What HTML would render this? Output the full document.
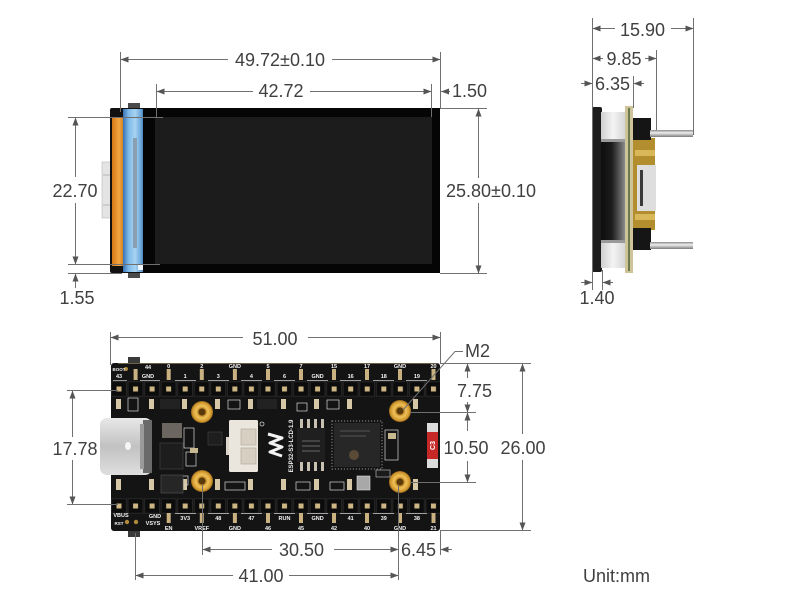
<!DOCTYPE html>
<html><head><meta charset="utf-8"><style>
html,body{margin:0;padding:0;background:#fff;}
svg{display:block;}
text{font-family:"Liberation Sans",sans-serif;}
.d{font-size:18px;fill:#404040;}
.l{stroke:#707070;stroke-width:1;fill:none;}
.a{stroke:#707070;stroke-width:1;fill:none;marker-end:url(#ar);}
.p{font-size:5.5px;fill:#f4f4f4;font-weight:bold;text-anchor:middle;}
.w{fill:none;stroke:#d8d8d8;stroke-width:.7;}
.pad{fill:#d6c7a6;}
</style></head><body>
<svg width="800" height="600" viewBox="0 0 800 600" xmlns="http://www.w3.org/2000/svg">
<defs>
<marker id="ar" viewBox="0 0 10 10" refX="10" refY="5" markerWidth="8" markerHeight="6" markerUnits="userSpaceOnUse" orient="auto" preserveAspectRatio="none"><path d="M0,0L10,5L0,10z" fill="#555"/></marker>
<linearGradient id="blue" x1="0" y1="0" x2="1" y2="0"><stop offset="0" stop-color="#3572b4"/><stop offset=".25" stop-color="#7db9e8"/><stop offset=".55" stop-color="#a9d3f2"/><stop offset=".8" stop-color="#6ea9dc"/><stop offset="1" stop-color="#2f68a8"/></linearGradient>
<linearGradient id="org" x1="0" y1="0" x2="1" y2="0"><stop offset="0" stop-color="#d47814"/><stop offset=".5" stop-color="#f2a642"/><stop offset="1" stop-color="#c46a10"/></linearGradient>
<radialGradient id="gold"><stop offset="0" stop-color="#7a4e0c"/><stop offset=".3" stop-color="#b67c1c"/><stop offset=".55" stop-color="#f0c25a"/><stop offset=".85" stop-color="#d39a30"/><stop offset="1" stop-color="#98681a"/></radialGradient>
<linearGradient id="usb" x1="0" y1="0" x2="0" y2="1"><stop offset="0" stop-color="#e8e8e8"/><stop offset=".5" stop-color="#c2c2c2"/><stop offset="1" stop-color="#dedede"/></linearGradient>
<linearGradient id="silvl" x1="0" y1="0" x2="1" y2="0"><stop offset="0" stop-color="#cfcfcf"/><stop offset=".5" stop-color="#f4f4f4"/><stop offset="1" stop-color="#d6d6d6"/></linearGradient>
<linearGradient id="dark" x1="0" y1="0" x2="1" y2="0"><stop offset="0" stop-color="#0e0e0e"/><stop offset=".45" stop-color="#1c1c1c"/><stop offset=".75" stop-color="#555"/><stop offset="1" stop-color="#8a8a8a"/></linearGradient>
<linearGradient id="pin" x1="0" y1="0" x2="0" y2="1"><stop offset="0" stop-color="#8a8a8a"/><stop offset=".4" stop-color="#eeeeee"/><stop offset="1" stop-color="#7a7a7a"/></linearGradient>
<pattern id="hdr" x="110.7" y="381" width="16.55" height="16" patternUnits="userSpaceOnUse"><rect x="0.8" y="0.8" width="14.9" height="14.4" fill="#0c0c0c" stroke="#2c2c2c" stroke-width="0.8"/><rect x="5.8" y="5.5" width="5" height="5" fill="#cdb684"/></pattern>
<pattern id="hdr2" x="110.7" y="498" width="16.55" height="16" patternUnits="userSpaceOnUse"><rect x="0.8" y="0.8" width="14.9" height="14.4" fill="#0c0c0c" stroke="#2c2c2c" stroke-width="0.8"/><rect x="5.8" y="5.5" width="5" height="5" fill="#cdb684"/></pattern>
</defs>
<rect width="800" height="600" fill="#fff"/>

<!-- ===== TOP DISPLAY ===== -->
<rect x="128" y="103" width="12" height="6" fill="#4a4a4a"/>
<rect x="128" y="272" width="12" height="6" fill="#4a4a4a"/>
<rect x="102" y="162" width="9" height="56" fill="#e4e4e4" stroke="#b8b8b8" stroke-width=".6"/>
<line x1="103" y1="175" x2="110" y2="175" stroke="#aaa" stroke-width=".8"/>
<line x1="103" y1="205" x2="110" y2="205" stroke="#aaa" stroke-width=".8"/>
<rect x="110" y="108" width="36" height="165" rx="2" fill="#111"/>
<rect x="112" y="118" width="14" height="148" fill="url(#org)"/>
<rect x="123" y="109" width="22" height="163" fill="url(#blue)"/>
<rect x="133" y="138" width="4" height="110" fill="#8a9fb2"/>
<rect x="138" y="264" width="6" height="6" fill="#eef6fc"/>
<rect x="143" y="108" width="297" height="165" fill="#050505"/>
<rect x="155" y="117" width="277" height="147" fill="#1c1c1c"/>

<!-- top dims -->
<line class="l" x1="120.5" y1="52" x2="120.5" y2="112"/>
<line class="l" x1="440.5" y1="52" x2="440.5" y2="108"/>
<line class="l" x1="156.5" y1="84" x2="156.5" y2="117"/>
<line class="l" x1="431.5" y1="84" x2="431.5" y2="117"/>
<line class="a" x1="228" y1="59.5" x2="120.5" y2="59.5"/>
<line class="a" x1="332" y1="59.5" x2="440.5" y2="59.5"/>
<text class="d" x="280" y="66" text-anchor="middle">49.72±0.10</text>
<line class="a" x1="253" y1="91.5" x2="156.5" y2="91.5"/>
<line class="a" x1="310" y1="91.5" x2="431.5" y2="91.5"/>
<text class="d" x="281" y="97" text-anchor="middle">42.72</text>
<line class="a" x1="450" y1="91.5" x2="441" y2="91.5"/>
<text class="d" x="452" y="97">1.50</text>
<line class="l" x1="68" y1="117.5" x2="163" y2="117.5"/>
<line class="l" x1="68" y1="264.5" x2="160" y2="264.5"/>
<line class="l" x1="68" y1="273.5" x2="122" y2="273.5"/>
<line class="a" x1="75.5" y1="177" x2="75.5" y2="117.5"/>
<line class="a" x1="75.5" y1="203" x2="75.5" y2="264.5"/>
<text class="d" x="75" y="197" text-anchor="middle">22.70</text>
<line class="a" x1="75.5" y1="288" x2="75.5" y2="273.5"/>
<text class="d" x="77" y="304" text-anchor="middle">1.55</text>
<line class="l" x1="440" y1="108.5" x2="487" y2="108.5"/>
<line class="l" x1="440" y1="273.5" x2="487" y2="273.5"/>
<line class="a" x1="478.5" y1="178" x2="478.5" y2="108.5"/>
<line class="a" x1="478.5" y1="203" x2="478.5" y2="273.5"/>
<text class="d" x="491" y="197" text-anchor="middle">25.80±0.10</text>

<!-- ===== SIDE VIEW ===== -->
<rect x="592" y="107" width="10" height="165" rx="2" fill="#1c1c1c"/>
<rect x="601" y="112" width="24" height="156" fill="url(#silvl)"/>
<rect x="601" y="141" width="24" height="100" fill="url(#dark)"/>
<rect x="601" y="139" width="24" height="3" fill="#9a9a9a"/>
<rect x="601" y="240" width="24" height="3" fill="#9a9a9a"/>
<rect x="625" y="106" width="8" height="167" fill="#cfc39a"/>
<rect x="628" y="108" width="2" height="163" fill="#6b7a4a"/>
<rect x="633" y="138" width="22" height="92" fill="#b38e2e"/>
<rect x="635" y="150" width="20" height="6" fill="#d9b85a"/>
<rect x="635" y="214" width="20" height="6" fill="#d9b85a"/>
<rect x="633" y="118" width="18" height="22" fill="#151515"/>
<rect x="633" y="228" width="18" height="22" fill="#151515"/>
<rect x="637" y="165" width="19" height="46" fill="#dedede"/>
<rect x="640" y="170" width="3" height="36" fill="#3a3a3a"/>
<rect x="650" y="130" width="43" height="7" fill="url(#pin)"/>
<rect x="650" y="242" width="43" height="7" fill="url(#pin)"/>

<line class="l" x1="592.5" y1="18" x2="592.5" y2="290"/>
<line class="l" x1="693.5" y1="18" x2="693.5" y2="135"/>
<line class="l" x1="656.5" y1="50" x2="656.5" y2="130"/>
<line class="l" x1="633.5" y1="76" x2="633.5" y2="108"/>
<line class="l" x1="602.5" y1="270" x2="602.5" y2="290"/>
<line class="a" x1="615" y1="28.5" x2="592.5" y2="28.5"/>
<line class="a" x1="671" y1="28.5" x2="693.5" y2="28.5"/>
<text class="d" x="642.5" y="36" text-anchor="middle">15.90</text>
<line class="a" x1="603" y1="58.5" x2="592.5" y2="58.5"/>
<line class="a" x1="645" y1="58.5" x2="656.5" y2="58.5"/>
<text class="d" x="624" y="65" text-anchor="middle">9.85</text>
<line class="a" x1="581" y1="83.5" x2="592.5" y2="83.5"/>
<line class="a" x1="644" y1="83.5" x2="633.5" y2="83.5"/>
<text class="d" x="612.5" y="90" text-anchor="middle">6.35</text>
<line class="a" x1="581" y1="282.5" x2="592.5" y2="282.5"/>
<line class="a" x1="613" y1="282.5" x2="602.5" y2="282.5"/>
<text class="d" x="597" y="304" text-anchor="middle">1.40</text>

<!-- ===== PCB ===== -->
<rect x="128" y="357" width="12" height="7" fill="#3a3a3a"/>
<rect x="128" y="530" width="12" height="7" fill="#3a3a3a"/>
<rect x="111" y="363" width="329" height="168" rx="3" fill="#141414"/>
<line x1="118" y1="363.5" x2="438" y2="363.5" stroke="#6b604a" stroke-width="1"/>
<rect x="111" y="381" width="329" height="16" fill="url(#hdr)"/>
<rect x="111" y="498" width="329" height="16" fill="url(#hdr2)"/>

<g fill="#c9b182">
<rect x="166.7" y="369" width="4" height="11"/><rect x="199.8" y="369" width="4" height="11"/><rect x="232.9" y="369" width="4" height="11"/><rect x="266" y="369" width="4" height="11"/><rect x="299" y="369" width="4" height="11"/><rect x="332" y="369" width="4" height="11"/><rect x="365" y="369" width="4" height="11"/><rect x="398" y="369" width="4" height="11"/><rect x="431.5" y="369" width="4" height="11"/>
<rect x="133.6" y="369" width="4" height="11"/>
</g>
<g stroke="#cfcfcf" stroke-width=".7">
<line x1="175" y1="380.5" x2="196" y2="380.5"/><line x1="208" y1="380.5" x2="229" y2="380.5"/><line x1="241" y1="380.5" x2="262" y2="380.5"/><line x1="274" y1="380.5" x2="295" y2="380.5"/><line x1="307" y1="380.5" x2="328" y2="380.5"/><line x1="340" y1="380.5" x2="361" y2="380.5"/><line x1="373" y1="380.5" x2="394" y2="380.5"/><line x1="406" y1="380.5" x2="427" y2="380.5"/><line x1="140" y1="380.5" x2="160" y2="380.5"/><line x1="113" y1="380.5" x2="127" y2="380.5"/>
</g>
<circle cx="126" cy="369" r="2" fill="#b08a3a"/>
<text class="p" x="119" y="371" style="font-size:4.5px">BOOT</text>
<text class="p" x="119" y="378">43</text>
<text class="p" x="148" y="369">44</text>
<text class="p" x="148" y="378">GND</text>
<text class="p" x="168.7" y="368">0</text>
<text class="p" x="185.2" y="378">1</text>
<text class="p" x="201.8" y="368">2</text>
<text class="p" x="218.3" y="378">3</text>
<text class="p" x="234.9" y="368">GND</text>
<text class="p" x="251.4" y="378">4</text>
<text class="p" x="268" y="368">5</text>
<text class="p" x="284.5" y="378">6</text>
<text class="p" x="301" y="368">7</text>
<text class="p" x="317.6" y="378">GND</text>
<text class="p" x="334" y="368">15</text>
<text class="p" x="350.7" y="378">16</text>
<text class="p" x="367" y="368">17</text>
<text class="p" x="383.8" y="378">18</text>
<text class="p" x="400" y="368">GND</text>
<text class="p" x="416.9" y="378">19</text>
<text class="p" x="433.5" y="368">20</text>

<g fill="#c9b182">
<rect x="166.7" y="513" width="4" height="10"/><rect x="199.8" y="513" width="4" height="10"/><rect x="232.9" y="513" width="4" height="10"/><rect x="266" y="513" width="4" height="10"/><rect x="299" y="513" width="4" height="10"/><rect x="332" y="513" width="4" height="10"/><rect x="365" y="513" width="4" height="10"/><rect x="398" y="513" width="4" height="10"/><rect x="431.5" y="513" width="4" height="10"/>
</g>
<circle cx="127" cy="522" r="2.2" fill="#b08a3a"/><circle cx="136" cy="522" r="2.2" fill="#b08a3a"/>
<g stroke="#cfcfcf" stroke-width=".7">
<line x1="175" y1="513.5" x2="196" y2="513.5"/><line x1="208" y1="513.5" x2="229" y2="513.5"/><line x1="241" y1="513.5" x2="262" y2="513.5"/><line x1="274" y1="513.5" x2="295" y2="513.5"/><line x1="307" y1="513.5" x2="328" y2="513.5"/><line x1="340" y1="513.5" x2="361" y2="513.5"/><line x1="373" y1="513.5" x2="394" y2="513.5"/><line x1="406" y1="513.5" x2="427" y2="513.5"/>
</g>
<text class="p" x="121" y="517">VBUS</text>
<text class="p" x="119" y="525" style="font-size:4.5px">RST</text>
<text class="p" x="155" y="518">GND</text>
<text class="p" x="153" y="525">VSYS</text>
<text class="p" x="168.7" y="530">EN</text>
<text class="p" x="185.2" y="520">3V3</text>
<text class="p" x="201.8" y="530">VREF</text>
<text class="p" x="218.3" y="520">48</text>
<text class="p" x="234.9" y="530">GND</text>
<text class="p" x="251.4" y="520">47</text>
<text class="p" x="268" y="530">46</text>
<text class="p" x="284.5" y="520">RUN</text>
<text class="p" x="301" y="530">45</text>
<text class="p" x="317.6" y="520">GND</text>
<text class="p" x="334" y="530">42</text>
<text class="p" x="350.7" y="520">41</text>
<text class="p" x="367" y="530">40</text>
<text class="p" x="383.8" y="520">39</text>
<text class="p" x="400" y="530">GND</text>
<text class="p" x="416.9" y="520">38</text>
<text class="p" x="433.5" y="530">21</text>

<g class="pad">
<rect x="116" y="399" width="5" height="10"/><rect x="149" y="399" width="5" height="10"/><rect x="182" y="399" width="5" height="10"/><rect x="215" y="399" width="5" height="10"/><rect x="248" y="399" width="5" height="10"/><rect x="281" y="399" width="5" height="10"/><rect x="314" y="399" width="5" height="10"/><rect x="347" y="399" width="5" height="10"/><rect x="413" y="399" width="5" height="10"/>
<rect x="116" y="479" width="5" height="11"/><rect x="149" y="479" width="5" height="11"/><rect x="182" y="479" width="5" height="11"/><rect x="215" y="479" width="5" height="11"/><rect x="248" y="479" width="5" height="11"/><rect x="281" y="479" width="5" height="11"/><rect x="314" y="479" width="5" height="11"/><rect x="347" y="479" width="5" height="11"/><rect x="413" y="479" width="5" height="11"/>
</g>

<rect class="w" x="128" y="398" width="10" height="13"/>
<rect class="w" x="228" y="400" width="12" height="9"/>
<rect class="w" x="327" y="400" width="12" height="9"/>
<rect class="w" x="297" y="403" width="10" height="8"/>
<rect class="w" x="176" y="476" width="12" height="9"/>
<rect class="w" x="225" y="482" width="20" height="8"/>
<rect class="w" x="296" y="482" width="14" height="8"/>
<rect class="w" x="330" y="482" width="14" height="8"/>
<rect class="w" x="184" y="428" width="10" height="20"/>
<rect class="w" x="186" y="452" width="10" height="14"/>
<rect class="w" x="385" y="430" width="13" height="30"/>
<rect x="160" y="399" width="20" height="10" fill="#222"/>
<rect x="257" y="399" width="20" height="10" fill="#222"/>
<rect x="162" y="423" width="20" height="15" fill="#6b6660"/>
<rect x="160" y="443" width="23" height="26" fill="#1d1d1d" stroke="#3c3c3c" stroke-width=".8"/>
<rect x="161" y="475" width="22" height="18" fill="#262626" stroke="#555" stroke-width=".6"/>
<rect x="208" y="432" width="14" height="13" fill="#1e1e1e" stroke="#444" stroke-width=".6"/>
<rect x="190" y="448" width="8" height="5" fill="#c8b890"/>

<rect x="100" y="418" width="52" height="57" rx="7" fill="url(#usb)"/>
<rect x="143" y="420" width="9" height="53" fill="#6a6a6a"/>
<rect x="140" y="424" width="4" height="45" fill="#9a9a9a"/>
<ellipse cx="128" cy="446" rx="3" ry="4" fill="#f5f5f5"/>

<circle cx="202" cy="412" r="11" fill="url(#gold)"/><circle cx="202" cy="412" r="3.5" fill="#5a3a0a"/>
<circle cx="202" cy="481" r="11" fill="url(#gold)"/><circle cx="202" cy="481" r="3.5" fill="#5a3a0a"/>
<circle cx="400" cy="411" r="11" fill="url(#gold)"/><circle cx="400" cy="411" r="3.5" fill="#5a3a0a"/>
<circle cx="400" cy="482" r="11" fill="url(#gold)"/><circle cx="400" cy="482" r="3.5" fill="#5a3a0a"/>

<rect x="226" y="437" width="6" height="18" fill="#ddd6ca"/>
<rect x="229" y="420" width="29" height="52" rx="1.5" fill="#ebe6dd"/>
<rect x="241" y="429" width="15" height="16" fill="#d6cfc2" stroke="#b4ab9c" stroke-width=".7"/>
<rect x="241" y="448" width="15" height="16" fill="#d6cfc2" stroke="#b4ab9c" stroke-width=".7"/>
<circle cx="262" cy="424" r="2" fill="none" stroke="#ccc" stroke-width=".8"/>

<polyline points="268,434 282,438 270,443 282,447 270,452 282,456" fill="none" stroke="#f4f4f4" stroke-width="3" stroke-linejoin="round"/>
<text x="0" y="0" transform="translate(293,446) rotate(-90)" style="font-size:6px;fill:#eee;font-weight:bold" text-anchor="middle">ESP32-S3-LCD-1.9</text>

<g fill="#c8c0b0">
<rect x="300" y="419" width="3" height="9"/><rect x="307" y="419" width="3" height="9"/><rect x="314" y="419" width="3" height="9"/><rect x="321" y="419" width="3" height="9"/>
<rect x="300" y="462" width="3" height="9"/><rect x="307" y="462" width="3" height="9"/><rect x="314" y="462" width="3" height="9"/><rect x="321" y="462" width="3" height="9"/>
</g>
<rect x="297" y="428" width="28" height="34" fill="#1f1f1f"/>
<rect x="302" y="440" width="18" height="2" fill="#444"/><rect x="302" y="445" width="18" height="2" fill="#444"/><rect x="302" y="450" width="18" height="2" fill="#444"/>

<rect x="332" y="421" width="50" height="48" fill="none" stroke="#777" stroke-width="1.2" stroke-dasharray="1.2,1.8"/>
<rect x="334" y="423" width="46" height="44" fill="#272727"/>
<rect x="340" y="430" width="30" height="2" fill="#3e3e3e"/><rect x="340" y="435" width="26" height="2" fill="#3e3e3e"/>
<circle cx="354" cy="455" r="5" fill="#5a4a38"/>

<rect x="357" y="476" width="13" height="14" fill="#a8a8a8" stroke="#ddd" stroke-width=".6"/>
<rect x="388" y="433" width="8" height="6" fill="#c8b890"/>
<rect x="376" y="470" width="14" height="7" fill="#1a1a1a" stroke="#ccc" stroke-width=".6"/>

<rect x="427" y="423" width="11" height="45" fill="#dcdcdc"/>
<rect x="427" y="432" width="11" height="27" fill="#c62828"/>
<text x="0" y="0" transform="translate(435,445.5) rotate(-90)" style="font-size:7px;fill:#fff;font-weight:bold" text-anchor="middle">C3</text>

<!-- bottom dims -->
<line class="l" x1="110.5" y1="332" x2="110.5" y2="365"/>
<line class="l" x1="440.5" y1="332" x2="440.5" y2="363"/>
<line class="a" x1="243" y1="337.5" x2="110.5" y2="337.5"/>
<line class="a" x1="308" y1="337.5" x2="440.5" y2="337.5"/>
<text class="d" x="275" y="345" text-anchor="middle">51.00</text>
<polyline class="l" points="463,351.5 455,351.5 403,410"/>
<text class="d" x="465" y="357">M2</text>
<line class="l" x1="440" y1="363.5" x2="531" y2="363.5"/>
<line class="l" x1="410" y1="412.5" x2="476" y2="412.5"/>
<line class="l" x1="410" y1="482.5" x2="476" y2="482.5"/>
<line class="l" x1="440" y1="530.5" x2="531" y2="530.5"/>
<line class="a" x1="467.5" y1="378" x2="467.5" y2="363.5"/>
<line class="a" x1="467.5" y1="402" x2="467.5" y2="412.5"/>
<text class="d" x="474.5" y="397" text-anchor="middle">7.75</text>
<line class="a" x1="467.5" y1="431" x2="467.5" y2="412.5"/>
<line class="a" x1="467.5" y1="461" x2="467.5" y2="482.5"/>
<text class="d" x="466" y="454" text-anchor="middle">10.50</text>
<line class="a" x1="522.5" y1="434" x2="522.5" y2="363.5"/>
<line class="a" x1="522.5" y1="460" x2="522.5" y2="530.5"/>
<text class="d" x="523" y="454" text-anchor="middle">26.00</text>
<line class="l" x1="67" y1="390.5" x2="118" y2="390.5"/>
<line class="l" x1="67" y1="504.5" x2="118" y2="504.5"/>
<line class="a" x1="72.5" y1="437" x2="72.5" y2="390.5"/>
<line class="a" x1="72.5" y1="460" x2="72.5" y2="504.5"/>
<text class="d" x="75" y="455" text-anchor="middle">17.78</text>
<line class="l" x1="135.5" y1="533" x2="135.5" y2="580"/>
<line class="l" x1="202.5" y1="485" x2="202.5" y2="555"/>
<line class="l" x1="398.5" y1="486" x2="398.5" y2="580"/>
<line class="l" x1="440.5" y1="531" x2="440.5" y2="555"/>
<line class="a" x1="272" y1="549.5" x2="202.5" y2="549.5"/>
<line class="a" x1="334" y1="549.5" x2="398.5" y2="549.5"/>
<text class="d" x="301.5" y="556" text-anchor="middle">30.50</text>
<line class="a" x1="452" y1="549.5" x2="440.5" y2="549.5"/>
<text class="d" x="418.5" y="556" text-anchor="middle">6.45</text>
<line class="a" x1="233" y1="575.5" x2="135.5" y2="575.5"/>
<line class="a" x1="289" y1="575.5" x2="398.5" y2="575.5"/>
<text class="d" x="261" y="582" text-anchor="middle">41.00</text>

<text class="d" x="583" y="582">Unit:mm</text>
</svg>
</body></html>
